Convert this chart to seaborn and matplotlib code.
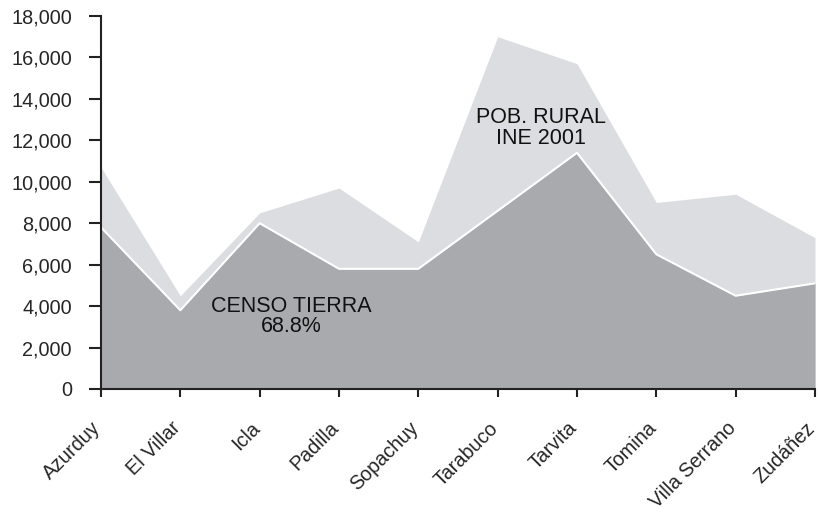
import numpy as np
import pandas as pd
import matplotlib.pyplot as plt
import matplotlib.transforms as mtransforms
import seaborn as sns

# municipios y valores
municipios = ["Azurduy", "El Villar", "Icla", "Padilla", "Sopachuy",
              "Tarabuco", "Tarvita", "Tomina", "Villa Serrano", "Zudáñez"]
pob_rural = [10700, 4500, 8500, 9700, 7100, 17000, 15700, 9000, 9400, 7300]
censo_tierra = [7800, 3800, 8000, 5800, 5800, 8600, 11400, 6500, 4500, 5100]

df = pd.DataFrame({"municipio": municipios, "pob_rural": pob_rural,
                   "censo_tierra": censo_tierra})
df["pos"] = np.arange(len(df))

sns.set_style("ticks")
plt.rcParams["font.family"] = ["Liberation Sans", "DejaVu Sans"]

fig = plt.figure(figsize=(8.18, 5.17), dpi=100)
ax = fig.add_axes([101 / 818, 1 - 389 / 517, 714 / 818, 373 / 517])

ax.fill_between(df["pos"], 0, df["pob_rural"], color="#dcdde0", lw=0)
ax.fill_between(df["pos"], 0, df["censo_tierra"], color="#a9aaad", lw=0)
sns.lineplot(data=df, x="pos", y="censo_tierra", color="white", lw=1.5, ax=ax)

ax.text(2.4, 3500, "CENSO TIERRA\n68.8%", ha="center", va="center",
        fontsize=15.5, linespacing=0.95, color="#111111")
ax.text(5.55, 12600, "POB. RURAL\nINE 2001", ha="center", va="center",
        fontsize=15.5, linespacing=0.95, color="#111111")

ax.set_xlim(0, len(df) - 1)
ax.set_ylim(0, 18000)
ax.set_yticks(range(0, 18001, 2000))
ax.set_yticklabels([f"{v:,}" for v in range(0, 18001, 2000)], fontsize=14.3)
ax.set_xticks(df["pos"])
ax.set_xticklabels(df["municipio"], rotation=45, ha="right", va="center",
                   rotation_mode="anchor", fontsize=14.2)
ax.set_xlabel("")
ax.set_ylabel("")
ax.tick_params(axis="y", length=9, width=1.5, color="#222222", pad=12)
ax.tick_params(axis="x", length=6, width=1.5, color="#222222", pad=20)
shift = mtransforms.ScaledTranslation(-0.03, 0, fig.dpi_scale_trans)
for lab in ax.get_xticklabels():
    lab.set_transform(lab.get_transform() + shift)
for s in ["left", "bottom"]:
    ax.spines[s].set_linewidth(1.5)
    ax.spines[s].set_color("#222222")
sns.despine(ax=ax)

fig.savefig("out.png", dpi=100)
